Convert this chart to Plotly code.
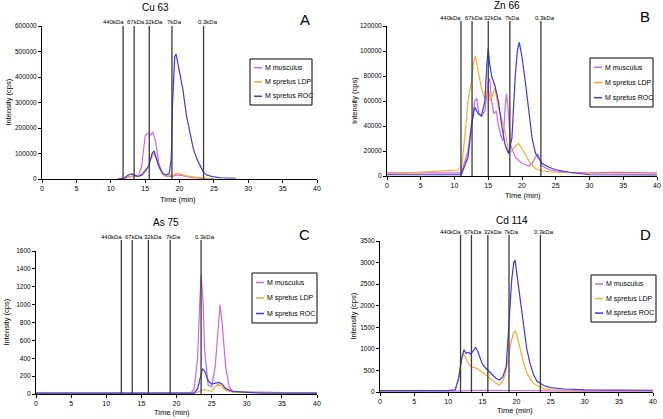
import plotly.graph_objects as go

# ---------------- data ----------------
series_names = ["M musculus", "M spretus LDP", "M spretus ROC"]
series_colors = ["#CC66EE", "#FFA530", "#3A3ADD"]
marker_labels = ["440kDa", "67kDa", "32kDa", "7kDa", "0.3kDa"]

# Panel A : Cu 63
cu_mus_t = [11, 12, 13, 14, 14.5, 15, 15.5, 15.8, 16.1, 16.5, 17, 17.5, 18, 19, 19.5, 20, 21, 22, 23, 24, 25]
cu_mus_y = [0, 3000, 10000, 10000, 50000, 170000, 180000, 172000, 185000, 150000, 60000, 20000, 10000, 10000, 15000, 15000, 10000, 5000, 3000, 1500, 0]
cu_ldp_t = [11, 12, 13, 14, 14.5, 15, 15.5, 16, 16.3, 16.7, 17, 17.5, 18, 19, 19.5, 20, 21, 22, 23, 24, 25]
cu_ldp_y = [0, 3000, 10000, 12000, 20000, 35000, 50000, 90000, 100000, 75000, 45000, 20000, 10000, 15000, 22000, 20000, 12000, 8000, 5000, 2000, 0]
cu_roc_t = [11.1, 12, 12.5, 13, 13.5, 14, 14.5, 15, 15.5, 16, 16.3, 16.7, 17, 17.5, 18, 18.5, 18.8, 19, 19.3, 19.5, 19.8, 20, 20.5, 21, 21.5, 22, 22.5, 23, 23.5, 24, 25, 26, 28.2]
cu_roc_y = [0, 5000, 15000, 20000, 15000, 10000, 15000, 30000, 50000, 100000, 110000, 80000, 50000, 25000, 15000, 20000, 80000, 300000, 480000, 490000, 450000, 430000, 350000, 250000, 180000, 120000, 80000, 50000, 25000, 15000, 8000, 5000, 3000]

# Panel B : Zn 66
zn_mus_t = [0, 11, 12, 12.5, 13, 13.3, 13.6, 14, 14.5, 15, 15.2, 15.5, 15.8, 16.2, 16.5, 17, 17.2, 17.5, 17.7, 18, 18.3, 19, 20, 21, 21.5, 22, 22.3, 22.7, 23, 24, 25, 27, 30, 34, 40]
zn_mus_y = [2500, 2500, 20000, 40000, 60000, 62000, 50000, 48000, 52000, 75000, 78000, 60000, 50000, 52000, 40000, 30000, 28000, 55000, 66000, 50000, 25000, 15000, 10000, 8000, 10000, 15000, 18000, 12000, 8000, 5000, 4000, 3000, 2500, 3000, 2500]
zn_ldp_t = [0, 11, 11.5, 12, 12.5, 12.8, 13.1, 13.5, 14, 14.5, 15, 15.3, 15.7, 16, 16.5, 17, 17.5, 18, 18.5, 19, 19.5, 20, 21, 22, 23, 25, 30, 40]
zn_ldp_y = [1500, 5000, 30000, 60000, 75000, 90000, 96000, 85000, 70000, 62000, 70000, 60000, 65000, 70000, 55000, 45000, 35000, 20000, 20000, 24000, 26000, 22000, 12000, 6000, 4000, 3000, 2000, 1500]
zn_roc_t = [0, 11, 12, 12.5, 13, 13.5, 14, 14.5, 14.8, 15, 15.2, 15.5, 16, 16.5, 17, 17.5, 18, 18.5, 19, 19.3, 19.6, 20, 20.5, 21, 21.5, 22, 23, 24, 25, 27, 30, 40]
zn_roc_y = [1000, 1000, 15000, 40000, 55000, 50000, 48000, 60000, 90000, 102000, 90000, 80000, 72000, 60000, 40000, 25000, 18000, 30000, 80000, 100000, 107000, 95000, 75000, 50000, 30000, 18000, 10000, 7000, 5000, 3000, 1000, 800]

# Panel C : As 75
as_mus_t = [0, 22, 22.5, 23, 23.3, 23.5, 23.8, 24, 24.5, 25, 25.5, 26, 26.2, 26.5, 27, 27.5, 28, 29, 31, 40]
as_mus_y = [10, 10, 50, 400, 1000, 1340, 1000, 500, 100, 80, 300, 850, 1000, 800, 300, 80, 30, 20, 20, 10]
as_ldp_t = [0, 22.5, 23, 23.5, 24, 24.5, 25, 25.5, 26, 26.5, 27, 28, 40]
as_ldp_y = [10, 10, 20, 40, 50, 40, 30, 80, 110, 80, 40, 20, 10]
as_roc_t = [0, 10.5, 12, 22.5, 23, 23.5, 23.7, 24, 24.5, 25, 25.5, 26, 26.5, 27, 28, 30, 31, 32, 40]
as_roc_y = [10, 10, 15, 10, 60, 200, 280, 260, 150, 110, 120, 130, 110, 60, 30, 20, 20, 10, 10]

# Panel D : Cd 114
cd_mus_t = [0, 10, 12, 15, 18, 20, 23, 30, 40]
cd_mus_y = [20, 20, 25, 40, 35, 40, 25, 20, 20]
cd_ldp_t = [0, 10, 11, 11.5, 12, 12.3, 12.7, 13, 13.5, 14, 14.5, 15, 15.5, 16, 16.5, 17, 17.5, 18, 18.5, 19, 19.5, 19.8, 20, 20.5, 21, 21.5, 22, 22.5, 23, 24, 25, 30, 40]
cd_ldp_y = [20, 20, 30, 300, 800, 880, 750, 650, 580, 560, 520, 450, 400, 330, 270, 200, 160, 250, 500, 1000, 1350, 1420, 1350, 1000, 700, 450, 300, 200, 150, 80, 50, 40, 30]
cd_roc_t = [0, 10, 11, 11.5, 12, 12.3, 12.6, 13, 13.3, 13.6, 14, 14.3, 14.7, 15, 15.5, 16, 16.5, 17, 17.5, 18, 18.5, 19, 19.3, 19.6, 19.8, 20, 20.5, 21, 21.5, 22, 22.5, 23, 24, 25, 27, 30, 40]
cd_roc_y = [30, 30, 50, 300, 800, 980, 900, 920, 880, 950, 1030, 950, 800, 650, 550, 480, 400, 320, 280, 350, 600, 1800, 2600, 3000, 3050, 2800, 2200, 1500, 1000, 650, 400, 250, 150, 100, 70, 50, 40]

# marker-line positions (min) per panel
cu_markers = [11.8, 13.4, 15.6, 18.9, 23.5]
zn_markers = [10.96, 12.6, 15.0, 18.2, 22.8]
as_markers = [12.15, 13.7, 16.0, 19.1, 23.5]
cd_markers = [11.8, 13.4, 15.8, 18.9, 23.5]

# ---------------- layout (pixels) ----------------
label_shift = [-10, 2, 5, 3, 4]
panels = [
    dict(title="Cu 63", letter="A", ymax=600000, dtick=100000, markers=cu_markers,
         data=[(cu_mus_t, cu_mus_y), (cu_ldp_t, cu_ldp_y), (cu_roc_t, cu_roc_y)],
         xd=[42, 317], yd=[26, 179], tx=155, ty=8, lx=305, ly=20,
         leg=[250, 59, 312, 105], mtop=26, ytx=8, xtx=178, xty=199),
    dict(title="Zn 66", letter="B", ymax=120000, dtick=20000, markers=zn_markers,
         data=[(zn_mus_t, zn_mus_y), (zn_ldp_t, zn_ldp_y), (zn_roc_t, zn_roc_y)],
         xd=[387, 657], yd=[26, 176], tx=507, ty=6, lx=645, ly=16,
         leg=[590, 58, 653, 107], mtop=21, ytx=354, xtx=523, xty=195),
    dict(title="As 75", letter="C", ymax=1600, dtick=200, markers=as_markers,
         data=[(as_mus_t, as_mus_y), (as_ldp_t, as_ldp_y), (as_roc_t, as_roc_y)],
         xd=[36, 317], yd=[251, 394], tx=166, ty=223, lx=304, ly=234,
         leg=[252, 273, 317, 323], mtop=240, ytx=6, xtx=172, xty=412),
    dict(title="Cd 114", letter="D", ymax=3500, dtick=500, markers=cd_markers,
         data=[(cd_mus_t, cd_mus_y), (cd_ldp_t, cd_ldp_y), (cd_roc_t, cd_roc_y)],
         xd=[380, 653], yd=[241, 392], tx=512, ty=221, lx=645, ly=234,
         leg=[591, 275, 656, 322], mtop=235, ytx=353, xtx=515, xty=410),
]

W, H = 663, 419
def px(x):
    return x / W
def py(y):
    return 1 - y / H

fig = go.Figure()
shapes = []
annotations = []
layout = dict(width=W, height=H, margin=dict(l=0, r=0, t=0, b=0),
              plot_bgcolor="white", paper_bgcolor="white", showlegend=False,
              font=dict(family="Liberation Sans, Arial, sans-serif", color="black"))

def note(x, y, text, size, xref="paper", xanchor="center", **kw):
    annotations.append(dict(x=x, y=y, xref=xref, yref="paper", text=text, showarrow=False,
                            xanchor=xanchor, yanchor="middle", font=dict(size=size), **kw))

for i, p in enumerate(panels):
    n = "" if i == 0 else str(i + 1)
    xa, ya = "x" + n, "y" + n
    for j, (t, y) in enumerate(p["data"]):
        fig.add_trace(go.Scatter(x=t, y=y, mode="lines", name=series_names[j],
                                 line=dict(color=series_colors[j], width=1.2),
                                 xaxis=xa, yaxis=ya))
    layout["xaxis" + n] = dict(domain=[px(p["xd"][0]), px(p["xd"][1])], anchor=ya,
                               range=[0, 40], dtick=5, showgrid=False, zeroline=False,
                               showline=True, linecolor="black", linewidth=1,
                               ticks="outside", ticklen=3, tickcolor="black",
                               tickfont=dict(size=7), automargin=False)
    layout["yaxis" + n] = dict(domain=[py(p["yd"][1]), py(p["yd"][0])], anchor=xa,
                               range=[0, p["ymax"]], dtick=p["dtick"], showgrid=False,
                               zeroline=False, showline=True, linecolor="black", linewidth=1,
                               ticks="outside", ticklen=3, tickcolor="black",
                               tickformat="d", tickfont=dict(size=6.5), automargin=False)
    # axis titles
    note(px(p["ytx"]), py((p["yd"][0] + p["yd"][1]) / 2), "Intensity (cps)", 7.5, textangle=-90)
    note(px(p["xtx"]), py(p["xty"]), "Time (min)", 7.5)
    # marker lines and labels
    for k, (xm, lab) in enumerate(zip(p["markers"], marker_labels)):
        shapes.append(dict(type="line", xref=xa, yref="paper", x0=xm, x1=xm,
                           y0=py(p["yd"][1]), y1=py(p["mtop"]),
                           line=dict(color="#3a3a3a", width=1.3)))
        note(xm, py(p["mtop"] - 3.5), lab, 6, xref=xa, xshift=label_shift[k])
    note(px(p["tx"]), py(p["ty"]), p["title"], 10)
    note(px(p["lx"]), py(p["ly"]), p["letter"], 15)
    # legend box
    l0, t0, r0, b0 = p["leg"]
    shapes.append(dict(type="rect", xref="paper", yref="paper", x0=px(l0), x1=px(r0),
                       y0=py(b0), y1=py(t0), line=dict(color="black", width=1),
                       fillcolor="white", layer="above"))
    h = b0 - t0
    for j in range(3):
        yy = t0 + h * (0.19 + 0.31 * j)
        shapes.append(dict(type="line", xref="paper", yref="paper", x0=px(l0 + 4), x1=px(l0 + 12),
                           y0=py(yy), y1=py(yy), line=dict(color=series_colors[j], width=1.5),
                           layer="above"))
        note(px(l0 + 13), py(yy), series_names[j], 7, xanchor="left")

layout["shapes"] = shapes
layout["annotations"] = annotations
fig.update_layout(**layout)
fig.write_html("out.html", config={"displayModeBar": False},
               post_script="document.body.style.margin='0';")
